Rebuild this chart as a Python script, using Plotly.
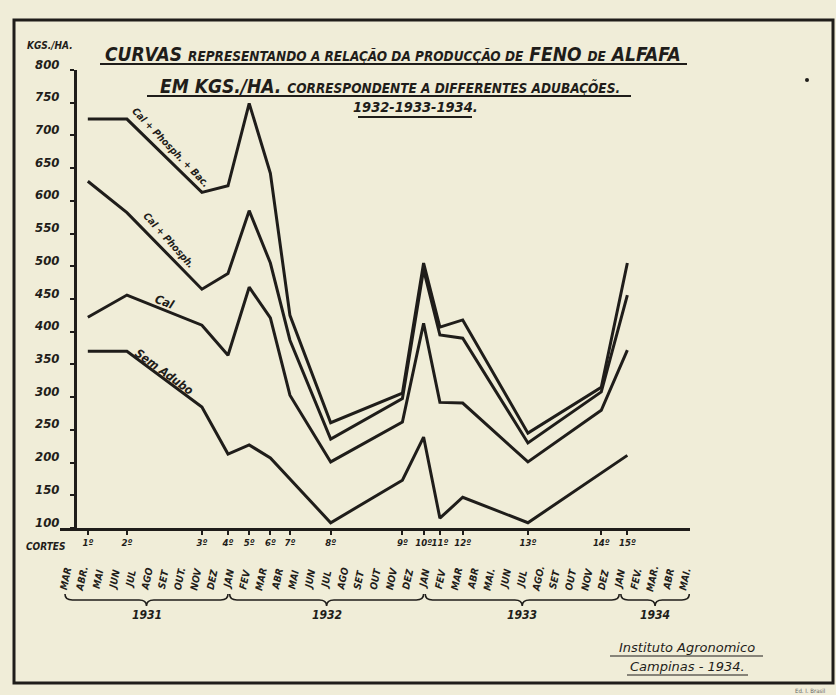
import plotly.graph_objects as go

W, H = 836, 695

# ---------------- data ----------------
cut_labels = ["1º", "2º", "3º", "4º", "5º", "6º", "7º", "8º", "9º", "10º",
              "11º", "12º", "13º", "14º", "15º"]
# position of each cut, in months counted from MAR 1931 (=0)
cut_month = [1.4, 3.8, 8.4, 10.0, 11.3, 12.6, 13.8, 16.3, 20.7, 22.0,
             23.0, 24.4, 28.4, 32.9, 34.5]

cal_phosph_bac = [725, 725, 613, 623, 749, 642, 425, 261, 306, 505,
                  407, 418, 245, 315, 505]
cal_phosph = [630, 582, 465, 489, 585, 505, 387, 236, 298, 495,
              395, 390, 230, 308, 456]
cal = [422, 456, 410, 364, 468, 421, 303, 201, 262, 413,
       292, 291, 201, 280, 372]
sem_adubo = [370, 370, 285, 213, 227, 207, None, 108, 173, 239,
             115, 147, 108, None, 211]

series = [("Cal + Phosph. + Bac.", cal_phosph_bac),
          ("Cal + Phosph.", cal_phosph),
          ("Cal", cal),
          ("Sem Adubo", sem_adubo)]

month_labels = ["MAR", "ABR.", "MAI", "JUN", "JUL", "AGO", "SET", "OUT.", "NOV", "DEZ",
                "JAN", "FEV", "MAR", "ABR", "MAI", "JUN", "JUL", "AGO", "SET", "OUT", "NOV", "DEZ",
                "JAN", "FEV", "MAR", "ABR", "MAI.", "JUN", "JUL", "AGO.", "SET", "OUT", "NOV", "DEZ",
                "JAN", "FEV.", "MAR.", "ABR", "MAI."]
month_pos = list(range(len(month_labels)))

year_labels = ["1931", "1932", "1933", "1934"]
year_start = [0.0, 10.1, 22.1, 34.1]
year_end = [10.0, 22.0, 34.0, 38.3]

y_tick_vals = [100, 150, 200, 250, 300, 350, 400, 450, 500, 550, 600, 650, 700, 750, 800]
y_tick_text = ["100", "150", "200", "250", "300", "350", "400", "450", "500", "550",
               "600", "650", "700", "750", "800"]

# ---------------- style ----------------
INK = "#1f1d1a"
BG = "#f0edd8"
FONT = "DejaVu Sans Condensed"


def fx(px):
    return px / W


def fy(py):
    return 1 - py / H


def font(size, bold=True, family=FONT, color=INK):
    d = dict(family=family, size=size, color=color, style="italic")
    if bold:
        d["weight"] = "bold"
    return d


fig = go.Figure()

for name, vals in series:
    fig.add_trace(go.Scatter(
        x=cut_month, y=vals, mode="lines", name=name,
        line=dict(color=INK, width=3), connectgaps=True,
        showlegend=False, hoverinfo="skip"))

ann = []


def add_text(text, x, y, xref="paper", yref="paper", **kw):
    d = dict(x=x, y=y, xref=xref, yref=yref, text=text, showarrow=False,
             xanchor="center", yanchor="middle")
    d.update(kw)
    ann.append(d)


# y tick labels (drawn with the y scale)
for v, t in zip(y_tick_vals, y_tick_text):
    add_text(t, fx(47), v, yref="y", yshift=6, font=font(13))

add_text("KGS./HA.", fx(50), fy(45), font=font(10))
add_text("CORTES", fx(46), fy(546), font=font(10))

# title
BIG = "font-size:19px"
SM = "font-size:13.5px"
t1 = (f"<span style='{BIG}'>CURVAS</span> "
      f"<span style='{SM}'>REPRESENTANDO A RELAÇÃO DA PRODUCÇÃO DE</span> "
      f"<span style='{BIG}'>FENO</span> <span style='{SM}'>DE</span> "
      f"<span style='{BIG}'>ALFAFA</span>")
t2 = (f"<span style='{BIG}'>EM KGS./HA.</span> "
      f"<span style='{SM}'>CORRESPONDENTE A DIFFERENTES ADUBAÇÕES.</span>")
t3 = "1932-1933-1934."
add_text(t1, fx(393), fy(54), font=font(19))
add_text(t2, fx(390), fy(86), font=font(19))
add_text(t3, fx(415), fy(107), font=font(14.5))

# series labels along the curves
lab_pos = [(6.5, 682, 46, 10), (6.4, 540, 48, 10), (6.1, 446, 22, 12), (6.1, 339, 36, 12)]
for (name, _), (mx, vy, ang, sz) in zip(series, lab_pos):
    add_text(name, mx, vy, xref="x", yref="y", textangle=ang, font=font(sz))

# month labels (vertical)
for m, t in zip(month_pos, month_labels):
    add_text(t, m, fy(579), xref="x", textangle=-78, font=font(10))

shapes = []
# braces + year labels
yt, ym, yb = fy(594), fy(600), fy(606)
for lab, a, b in zip(year_labels, year_start, year_end):
    c = (a + b) / 2
    r = 0.45
    path = (f"M {a},{yt} Q {a},{ym} {a + r},{ym} L {c - r},{ym} Q {c},{ym} {c},{yb} "
            f"Q {c},{ym} {c + r},{ym} L {b - r},{ym} Q {b},{ym} {b},{yt}")
    shapes.append(dict(type="path", path=path, xref="x", yref="paper",
                       line=dict(color=INK, width=1.6)))
    add_text(lab, c, fy(615), xref="x", font=font(12))

# institute
add_text("Instituto Agronomico", fx(687), fy(647), font=font(13, bold=False, family="DejaVu Sans"))
add_text("Campinas - 1934.", fx(687), fy(666), font=font(13, bold=False, family="DejaVu Sans"))
add_text("Ed. I. Brasil", fx(810), fy(690), font=dict(family=FONT, size=6, color="#666"))

# underlines
for x0, x1, yy, w in [(100, 687, 64, 2.2), (147, 631, 96, 2.2), (358, 472, 117, 2.2),
                      (610, 763, 656, 1.2), (627, 748, 675, 1.2)]:
    shapes.append(dict(type="line", xref="paper", yref="paper",
                       x0=fx(x0), x1=fx(x1), y0=fy(yy), y1=fy(yy),
                       line=dict(color=INK, width=w)))

# page frame
shapes.append(dict(type="rect", xref="paper", yref="paper",
                   x0=fx(14), x1=fx(833), y0=fy(683), y1=fy(20),
                   line=dict(color=INK, width=3)))
# small mark
shapes.append(dict(type="circle", xref="paper", yref="paper",
                   x0=fx(805), x1=fx(809), y0=fy(78), y1=fy(82),
                   fillcolor=INK, line=dict(width=0)))

X0PX, X1PX = 60, 690
fig.update_layout(
    width=W, height=H, autosize=False,
    margin=dict(l=0, r=0, t=0, b=0),
    paper_bgcolor=BG, plot_bgcolor="rgba(0,0,0,0)",
    annotations=ann, shapes=shapes,
    xaxis=dict(domain=[fx(X0PX), fx(X1PX)],
               range=[(X0PX - 65) / 16.3, (X1PX - 65) / 16.3],
               showgrid=False, zeroline=False, showline=True, linecolor=INK, linewidth=2.5,
               tickmode="array", tickvals=cut_month, ticktext=cut_labels, tickangle=0,
               ticks="outside", ticklen=4, tickwidth=2, tickcolor=INK,
               tickfont=font(9.5)),
    yaxis=dict(domain=[fy(528), fy(70)], range=[100, 800],
               anchor="free", position=fx(75),
               showgrid=False, zeroline=False, showline=True, linecolor=INK, linewidth=2.5,
               tickmode="array", tickvals=y_tick_vals, showticklabels=False,
               ticks="outside", ticklen=4, tickwidth=2, tickcolor=INK),
)

fig.write_html("out.html", post_script="document.body.style.margin='0';",
               config={"displayModeBar": False})
